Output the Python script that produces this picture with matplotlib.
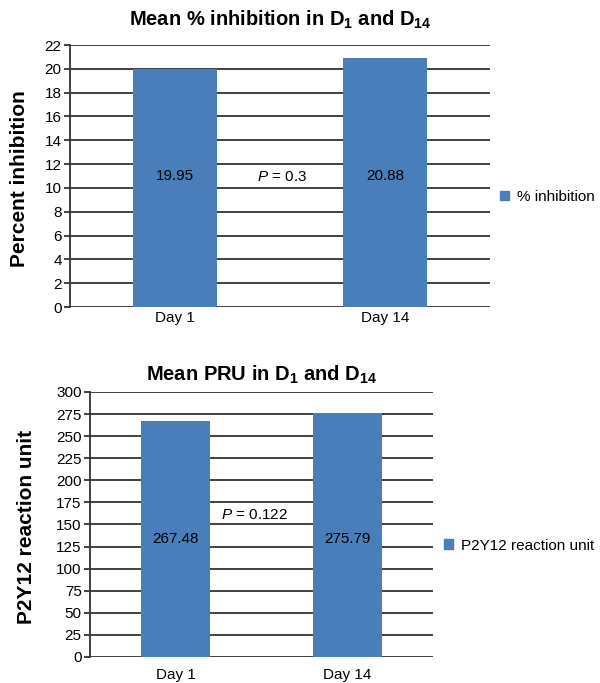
import matplotlib
matplotlib.use("Agg")
import matplotlib.pyplot as plt
from matplotlib.patches import Patch

plt.rcParams['font.family'] = ['Liberation Sans', 'DejaVu Sans']
plt.rcParams['mathtext.fontset'] = 'custom'
plt.rcParams['mathtext.rm'] = 'Liberation Sans'
plt.rcParams['mathtext.it'] = 'Liberation Sans:italic'
plt.rcParams['mathtext.bf'] = 'Liberation Sans:bold'

# data
days = ["Day 1", "Day 14"]
inhibition = [19.95, 20.88]
pru = [267.48, 275.79]
inhib_p = "$P$ = 0.3"
pru_p = "$P$ = 0.122"

bar_color = "#4A7EBB"
grid_color = "#333333"

fig = plt.figure(figsize=(6, 6.83), dpi=100)


def draw_panel(ax, values, ymax, step, title, ylabel, legend_label,
               label_y, p_text, p_xy, ylabel_x, legend_xy, title_y, xpad):
    x = range(len(days))
    ax.bar(x, values, width=0.4, color=bar_color, zorder=3)
    ax.set_xlim(-0.5, 1.5)
    ax.set_ylim(0, ymax)
    ax.set_yticks(range(0, ymax + 1, step))
    ax.set_xticks(list(x))
    ax.set_xticklabels(days)
    ax.grid(axis='y', color=grid_color, linewidth=1.3, zorder=0)
    ax.set_axisbelow(True)
    for s in ['top', 'right', 'bottom']:
        ax.spines[s].set_visible(False)
    ax.spines['left'].set_color(grid_color)
    ax.spines['left'].set_linewidth(1.3)
    ax.tick_params(axis='y', length=4, width=1.3, color=grid_color, labelsize=11, pad=2)
    ax.tick_params(axis='x', length=0, labelsize=11, pad=xpad)
    for i, v in enumerate(values):
        ax.text(i, label_y, f"{v:.2f}", ha='center', va='center', fontsize=11, zorder=4)
    ax.text(p_xy[0], p_xy[1], p_text, ha='center', va='center', fontsize=11)
    ax.set_ylabel(ylabel, fontsize=15, fontweight='bold')
    ax.yaxis.set_label_coords(ylabel_x, 0.49)
    ax.text(0.5, title_y, title, transform=ax.transAxes, ha='center',
            va='center', fontsize=14.5, fontweight='bold')
    ax.legend(handles=[Patch(color=bar_color, label=legend_label)],
              loc='center left', bbox_to_anchor=legend_xy, frameon=False,
              fontsize=11, handlelength=0.6, handleheight=0.6,
              handletextpad=0.5, borderpad=0, borderaxespad=0)


ax1 = fig.add_axes([0.1167, 0.5505, 0.70, 0.3836])
draw_panel(ax1, inhibition, 22, 2,
           r"Mean % inhibition in D$_\mathbf{1}$ and D$_\mathbf{14}$",
           "Percent inhibition", "% inhibition",
           11.0, inhib_p, (0.51, 10.9), -0.098, (1.024, 0.42), 1.095, 3)

ax2 = fig.add_axes([0.15, 0.0381, 0.5717, 0.388])
draw_panel(ax2, pru, 300, 25,
           r"Mean PRU in D$_\mathbf{1}$ and D$_\mathbf{14}$",
           "P2Y12 reaction unit", "P2Y12 reaction unit",
           133.6, pru_p, (0.46, 161), -0.157, (1.032, 0.42), 1.065, 8)

fig.savefig("out.png", dpi=100)
